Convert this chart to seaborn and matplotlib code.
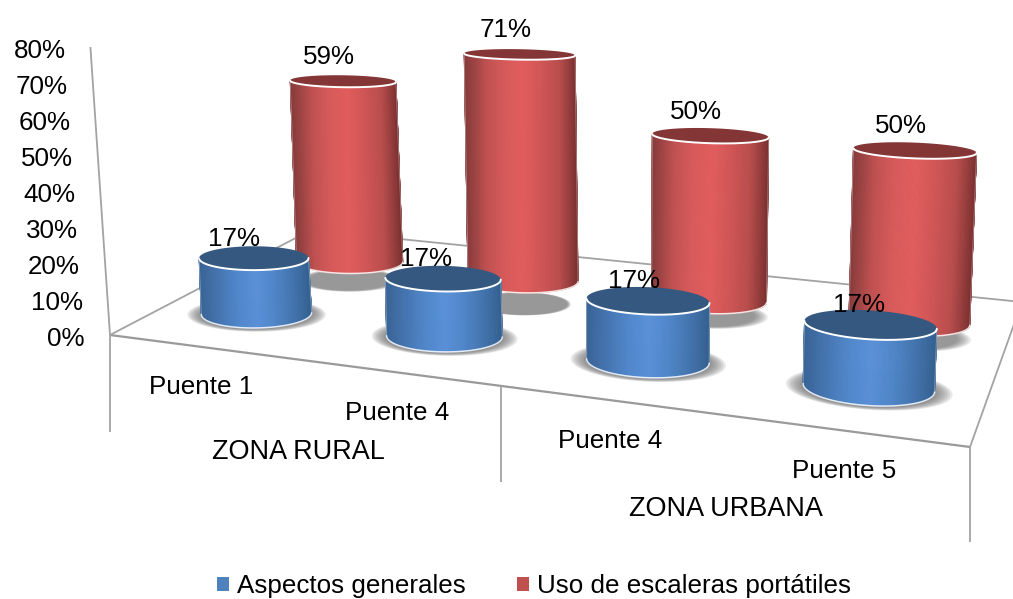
import numpy as np
import pandas as pd
import seaborn as sns
import matplotlib
matplotlib.use("Agg")
import matplotlib.pyplot as plt
from matplotlib.collections import PolyCollection
from matplotlib.patches import Patch, Polygon

# ---- data ----
zones = ["ZONA RURAL", "ZONA URBANA"]
bridges = ["Puente 1", "Puente 4", "Puente 4", "Puente 5"]
series_names = ["Aspectos generales", "Uso de escaleras portátiles"]
aspectos = [17, 17, 17, 17]
escaleras = [59, 71, 50, 50]
ticks = [0, 10, 20, 30, 40, 50, 60, 70, 80]

# ---- style ----
sns.set_theme(style="white")
plt.rcParams["font.family"] = ["Liberation Sans", "DejaVu Sans"]
FS = 18.7
blue_grad = sns.blend_palette(["#3a6496", "#4676b2", "#5088cb", "#5a90d8", "#4f86c8", "#4474ae", "#34608f"], 101)
red_grad = sns.blend_palette(["#883c3c", "#c05151", "#d85a5a", "#e05c5c", "#cf5555", "#b84d4d", "#7a3030"], 101)
TOP = {0: "#34587f", 1: "#843636"}
GRID = "#a3a3a3"

df = pd.DataFrame({"cat": range(4), series_names[0]: aspectos, series_names[1]: escaleras})

# ---- camera: floor homography and vertical perspective ----
Q = np.array([[110, 335], [970, 447], [1022, 302], [311, 230]], float)
dx1, dy1 = Q[1] - Q[2]
dx2, dy2 = Q[3] - Q[2]
sx, sy = Q[0] - Q[1] + Q[2] - Q[3]
den = dx1 * dy2 - dx2 * dy1
g = (sx * dy2 - dx2 * sy) / den
h = (dx1 * sy - sx * dy1) / den
A = np.array([[Q[1, 0] - Q[0, 0] + g * Q[1, 0], Q[3, 0] - Q[0, 0] + h * Q[3, 0], Q[0, 0]],
              [Q[1, 1] - Q[0, 1] + g * Q[1, 1], Q[3, 1] - Q[0, 1] + h * Q[3, 1], Q[0, 1]]])
K, LEAN, XV = 3.6, 0.000126, 650.0
V_POS = [0.265, 0.75]
U_OFF = [0.0, 0.0045]
RU = [0.0705, 0.076]
RU_SLOPE = [0.0, 0.06]
RV = 0.11
TAPER = [0.006, 0.0042]
SHEAR = 0.02


def proj(u, v, z=0.0):
    u, v = np.asarray(u, float), np.asarray(v, float)
    w = 1 + g * u + h * v
    x = (A[0, 0] * u + A[0, 1] * v + A[0, 2]) / w
    y = (A[1, 0] * u + A[1, 1] * v + A[1, 2]) / w
    s = K / w * z
    return XV + (x - XV) * (1 + LEAN * s), y - s


def slot(i, s):
    u = (i + 0.5) / 4
    return u + U_OFF[s] - 0.005 * max(0.0, 1 - 2 * u)


TH = np.linspace(0, 2 * np.pi, 361)[:-1]


def ring(s, u0, v0, z, scale=1.0):
    f = max(0.0, 1 - TAPER[s] * z)
    ru = RU[s] * (1 - RU_SLOPE[s] * u0) * scale
    rv = RV * f * (1 + (scale - 1) * 0.6)
    x, y = proj(u0 + ru * np.cos(TH), v0 + rv * np.sin(TH), z)
    xc = x.mean()
    return x, y - SHEAR * (x - xc)


def mark_height(z):
    return z * 0.985 - 0.8


fig = plt.figure(figsize=(10.13, 5.99), dpi=100)
ax = fig.add_axes([0, 0, 1, 1])
ax.set_xlim(0, 1013)
ax.set_ylim(599, 0)
ax.axis("off")


def segment(a, b, lw=1.3, color=GRID, zorder=1):
    ax.plot([a[0], b[0]], [a[1], b[1]], color=color, lw=lw, zorder=zorder, solid_capstyle="butt")


corners = [proj(0, 0), proj(1, 0), proj(1, 1), proj(0, 1)]
segment(corners[0], corners[1], lw=1.6, color="#9a9a9a")
segment(corners[1], corners[2])
segment(corners[2], corners[3])
segment(corners[3], corners[0])
segment(proj(0, 0), proj(0, 0, ticks[-1]))
for u, drop in zip([0, 0.5, 1], [97, 96, 95]):
    p = proj(u, 0)
    segment(p, (p[0], p[1] + drop))

for t in ticks:
    x, y = proj(0, 0, t)
    ax.text(x - 25, y + 3.5, f"{t}%", ha="right", va="center", fontsize=FS, color="black")

# category labels
for i, name in enumerate(bridges):
    x, y = proj((i + 0.5) / 4, 0)
    ax.text(x, y + 40.5, name, ha="center", va="center", fontsize=FS, color="black")
for i, name in enumerate(zones):
    x, y = proj((2 * i + 1) / 4, 0)
    ax.text(x + 1, y + 93 + i, name, ha="center", va="center", fontsize=FS * 1.04, color="black")


def shadow(s, u0, v0, z):
    extra = max(0, z - 17)
    base = 1.27 - extra * 0.0075
    a = 0.15 if s == 0 else 0.11
    for k in np.linspace(base, max(0.8, base - 0.3), 9):
        x, y = ring(s, u0, v0, 0, scale=k)
        ax.add_patch(Polygon(np.c_[x, y + 0.42 * extra + 1], closed=True, fc="#666666", ec="none",
                             alpha=a, zorder=2))


def cylinder(s, u0, v0, z, grad, top, zo):
    hz = mark_height(z)
    xb, yb = ring(s, u0, v0, 0)
    xt, yt = ring(s, u0, v0, hz)
    il = int(np.argmin(xb + xt))
    ir = int(np.argmax(xb + xt))
    idx = np.arange(il, ir + 1 + (360 if ir < il else 0)) % 360
    polys, cols = [], []
    for a, b in zip(idx[:-1], idx[1:]):
        polys.append([(xb[a], yb[a]), (xb[b], yb[b]), (xt[b], yt[b]), (xt[a], yt[a])])
        fr = (xb[a] - xb[il]) / (xb[ir] - xb[il])
        cols.append(grad[int(np.clip(fr, 0, 1) * 100)])
    ax.add_collection(PolyCollection(polys, facecolors=cols, edgecolors=cols, linewidths=0.6, zorder=zo))
    ax.plot(xb[idx], yb[idx], color="white", lw=1.1, alpha=0.85, zorder=zo + 0.1)
    ax.plot([xb[il], xt[il]], [yb[il], yt[il]], color="white", lw=0.7, alpha=0.35, zorder=zo + 0.1)
    ax.plot([xb[ir], xt[ir]], [yb[ir], yt[ir]], color="white", lw=0.7, alpha=0.35, zorder=zo + 0.1)
    ax.add_patch(Polygon(np.c_[xt, yt], closed=True, fc=top, ec="none", zorder=zo + 0.2))
    ax.plot(xt[idx], yt[idx], color="white", lw=1.4, zorder=zo + 0.3)
    return xt.mean(), yt.mean()


rows = [(1, escaleras, red_grad), (0, aspectos, blue_grad)]
for s, vals, grad in rows:
    for i, z in enumerate(vals):
        shadow(s, slot(i, s), V_POS[s], z)
for s, vals, grad in rows:
    for i, z in enumerate(vals):
        u0 = slot(i, s)
        zo = 3 + (0 if s == 1 else 4) + i * 0.5
        xc, yc = cylinder(s, u0, V_POS[s], z, grad, TOP[s], zo)
        dx = -14 if s == 1 else -21 + 11.4 * u0
        dy = -24 if s == 1 else -19.5
        ax.text(xc + dx, yc + dy, f"{z}%", ha="center", va="center", fontsize=FS, color="black", zorder=20)

handles = [Patch(color="#4f81bd", lw=0), Patch(color="#c0504d", lw=0)]
leg = ax.legend(handles, series_names, ncol=2, frameon=False, fontsize=FS, labelcolor="black",
                loc="center", bbox_to_anchor=(534 / 1013, 1 - 586.5 / 599),
                handlelength=0.46, handleheight=0.46, handletextpad=0.32, columnspacing=1.95,
                borderaxespad=0, borderpad=0)
sns.despine(ax=ax, left=True, bottom=True)
fig.savefig("out.png", dpi=100, facecolor="white")
